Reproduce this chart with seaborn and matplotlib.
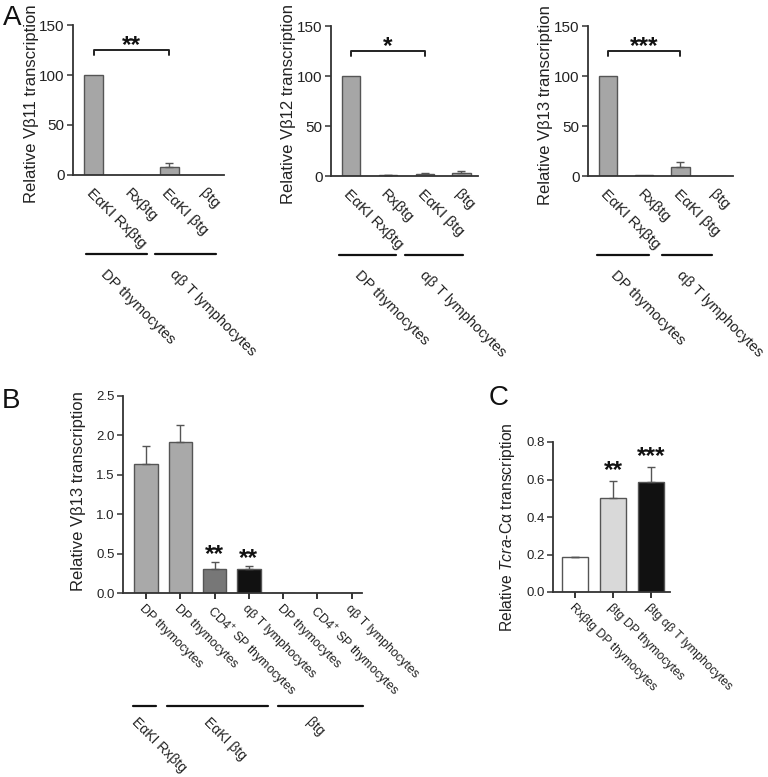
import matplotlib
matplotlib.use("Agg")
import matplotlib.pyplot as plt
import seaborn as sns
import pandas as pd
import numpy as np

# ---- data ----
a_labels = ["EαKI Rxβtg", "Rxβtg", "EαKI βtg", "βtg"]
a_groups = ["DP thymocytes", "αβ T lymphocytes"]
vb11_mean = [100, 0.3, 8.3, 0.2]
vb11_err = [0, 0, 3.4, 0]
vb12_mean = [100, 0.6, 2.5, 3.2]
vb12_err = [0, 0.3, 0.8, 1.8]
vb13_mean = [100, 0.8, 9.5, 0.2]
vb13_err = [0, 0, 4.5, 0]
a_sig = ["**", "*", "***"]
a_ylabels = ["Relative Vβ11 transcription", "Relative Vβ12 transcription",
             "Relative Vβ13 transcription"]

b_labels = ["DP thymocytes", "DP thymocytes", "CD4$^{+}$ SP thymocytes",
            "αβ T lymphocytes", "DP thymocytes", "CD4$^{+}$ SP thymocytes",
            "αβ T lymphocytes"]
b_groups = ["EαKI Rxβtg", "EαKI βtg", "βtg"]
b_mean = [1.64, 1.91, 0.31, 0.30, 0.004, 0.003, 0.006]
b_err = [0.22, 0.22, 0.08, 0.04, 0, 0, 0]
b_sig = ["", "", "**", "**", "", "", ""]
b_colors = ["#a9a9a9", "#a9a9a9", "#777777", "#111111", "#a9a9a9", "#a9a9a9", "#a9a9a9"]

c_labels = ["Rxβtg DP thymocytes", "βtg DP thymocytes", "βtg αβ T lymphocytes"]
c_mean = [0.185, 0.50, 0.587]
c_err = [0.002, 0.093, 0.079]
c_sig = ["", "**", "***"]
c_colors = ["#ffffff", "#d9d9d9", "#111111"]

# ---- style ----
sns.set_theme(style="ticks")
plt.rcParams["font.family"] = ["Liberation Sans", "DejaVu Sans"]
plt.rcParams["mathtext.fontset"] = "custom"
plt.rcParams["mathtext.rm"] = "Liberation Sans"
plt.rcParams["mathtext.it"] = "Liberation Sans:italic"
plt.rcParams["mathtext.default"] = "regular"

W, H = 768, 777
fig = plt.figure(figsize=(W / 100, H / 100), dpi=100)
INK = "#222222"
EDGE = "#555555"


def px_axes(l, t, r, b):
    return fig.add_axes([l / W, 1 - b / H, (r - l) / W, (b - t) / H])


def style_axis(ax, xticks=True, xfs=9.5, yfs=9.5, xpad=3):
    sns.despine(ax=ax)
    for s in ["left", "bottom"]:
        ax.spines[s].set_linewidth(1.3)
        ax.spines[s].set_color("#333333")
    ax.tick_params(axis="y", length=4, width=1.1, color="#333333",
                   labelsize=yfs, labelcolor=INK, pad=2)
    ax.tick_params(axis="x", length=4 if xticks else 0, width=1.4, color="#333333",
                   labelsize=xfs, labelcolor=INK, pad=xpad)
    ax.set_xlabel("")


def ylabel(ax, text, x, y, fs=12):
    ax.set_ylabel(text, fontsize=fs, color=INK)
    ax.yaxis.label.set_va("center")
    ax.yaxis.label.set_ha("center")
    ax.yaxis.set_label_coords(x, y)


def bars(ax, means, errs, colors, width):
    df = pd.DataFrame({"x": list(range(len(means))), "y": means})
    sns.barplot(data=df, x="x", y="y", hue="x", palette=colors, width=width,
                edgecolor=EDGE, linewidth=1.0, legend=False, ax=ax)
    idx = [i for i, e in enumerate(errs) if e > 0]
    ax.errorbar(idx, [means[i] for i in idx],
                yerr=[np.zeros(len(idx)), [errs[i] for i in idx]],
                fmt="none", ecolor=EDGE, elinewidth=1.0, capsize=2.8, capthick=1.0)


def stars(ax, x, y, s, fs=17.5):
    ax.annotate(s, (x, y), xytext=(0, -0.6 * fs), textcoords="offset points",
                ha="center", va="baseline", fontsize=fs, fontweight="bold",
                color="#111111", annotation_clip=False)


def group_lines(ax, spans, yfrac, labels, label_x, label_yfrac, fs=10.5):
    tr = ax.get_xaxis_transform()
    for (x0, x1) in spans:
        ax.plot([x0, x1], [yfrac, yfrac], color="#111111", lw=1.6,
                transform=tr, clip_on=False)
    for lab, lx in zip(labels, label_x):
        ax.text(lx, label_yfrac, lab, rotation=-45, rotation_mode="anchor",
                ha="left", va="top", fontsize=fs, color=INK, transform=tr)


# ---- panel A ----
a_rects = [(73, 25, 224, 175), (331, 26, 478, 176), (588, 26, 733, 176)]
a_means = [vb11_mean, vb12_mean, vb13_mean]
a_errs = [vb11_err, vb12_err, vb13_err]
a_spans = [[(-0.2, 1.41), (1.63, 3.25)],
           [(-0.32, 1.22), (1.46, 3.03)],
           [(-0.3, 1.14), (1.49, 2.86)]]
a_glabel_x = [[0.37, 2.19], [0.3, 2.05], [0.27, 2.1]]
a_ylab_pos = [(-0.278, 0.473), (-0.286, 0.48), (-0.29, 0.473)]

for i in range(3):
    ax = px_axes(*a_rects[i])
    bars(ax, a_means[i], a_errs[i], ["#a6a6a6"] * 4, 0.5)
    ax.set_ylim(0, 150)
    ax.set_yticks([0, 50, 100, 150])
    ax.set_xlim(-0.55, 3.45)
    ax.set_xticks(range(4))
    ax.set_xticklabels(a_labels, rotation=-45, ha="left", va="top",
                       rotation_mode="anchor")
    ylabel(ax, a_ylabels[i], *a_ylab_pos[i])
    style_axis(ax, xticks=False, xfs=11, yfs=11, xpad=8)
    # significance bracket between bar 0 and bar 2
    ax.plot([0, 0, 2, 2], [120, 125.5, 125.5, 120], color="#222222", lw=1.4,
            clip_on=False)
    stars(ax, 1, 138, a_sig[i])
    group_lines(ax, a_spans[i], -0.527, a_groups, a_glabel_x[i], -0.615)

# ---- panel B ----
ax = px_axes(123, 396, 362, 593)
bars(ax, b_mean, b_err, b_colors, 0.68)
ax.set_ylim(0, 2.5)
ax.set_yticks(np.arange(0, 2.51, 0.5))
ax.set_yticklabels([f"{v:.1f}" for v in np.arange(0, 2.51, 0.5)])
ax.set_xlim(-0.67, 6.3)
ax.set_xticks(range(7))
ax.set_xticklabels(b_labels, rotation=-45, ha="left", va="top",
                   rotation_mode="anchor")
ylabel(ax, "Relative Vβ13 transcription", -0.188, 0.518)
style_axis(ax, xfs=9, yfs=9.5)
for i, s in enumerate(b_sig):
    if s:
        stars(ax, i, b_mean[i] + b_err[i] + 0.2, s)
group_lines(ax, [(-0.38, 0.29), (0.61, 3.56), (3.85, 6.33)], -0.574,
            b_groups, [-0.2, 1.9, 4.88], -0.622, fs=10)

# ---- panel C ----
ax = px_axes(553, 442, 670, 592)
bars(ax, c_mean, c_err, c_colors, 0.67)
ax.set_ylim(0, 0.8)
ax.set_yticks(np.arange(0, 0.81, 0.2))
ax.set_yticklabels([f"{v:.1f}" for v in np.arange(0, 0.81, 0.2)])
ax.set_xlim(-0.58, 2.5)
ax.set_xticks(range(3))
ax.set_xticklabels(c_labels, rotation=-45, ha="left", va="top",
                   rotation_mode="anchor")
ylabel(ax, r"Relative $\it{Tcra}$-Cα transcription", -0.393, 0.433, fs=11.3)
style_axis(ax, xfs=8.8, yfs=9.5)
for i, s in enumerate(c_sig):
    if s:
        stars(ax, i, c_mean[i] + c_err[i] + 0.1, s)

# panel letters
for lab, x, y in [("A", 12, 18), ("B", 11, 401), ("C", 499, 398)]:
    fig.text(x / W, 1 - y / H, lab, fontsize=20, ha="center", va="center",
             color="#111111")

fig.savefig("out.png", dpi=100)
